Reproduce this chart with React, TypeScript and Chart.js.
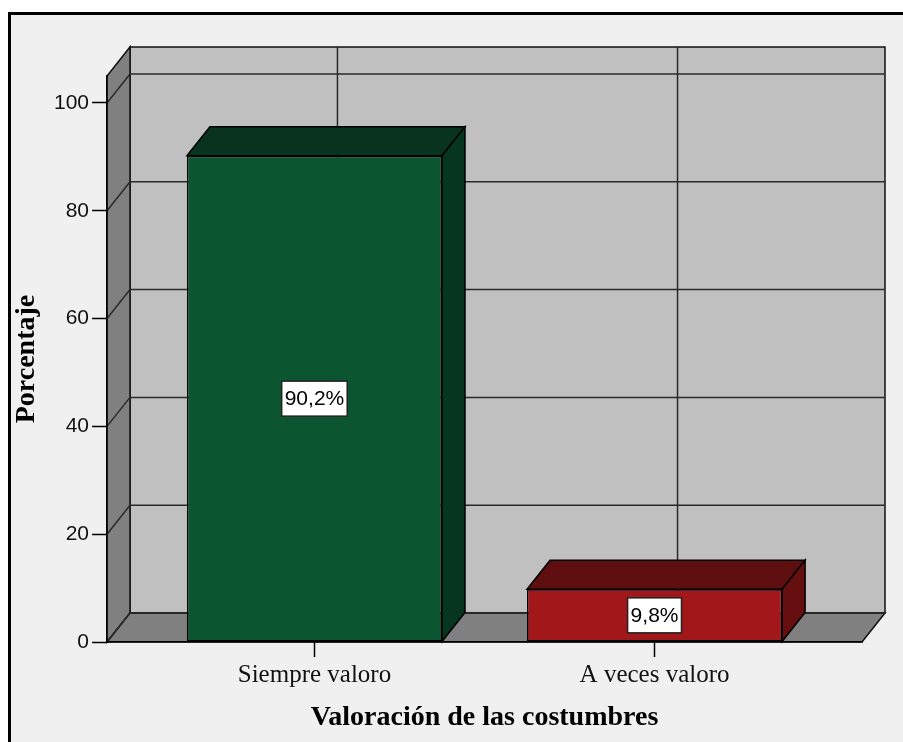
import React, { useEffect, useRef } from 'react';
import { Chart, registerables } from 'chart.js';

Chart.register(...registerables);

const categories = ['Siempre valoro', 'A veces valoro'];
const percentages = [90.2, 9.8];
const yTickValues = [0, 20, 40, 60, 80, 100];
const frontColors = ['#0b5530', '#a1171a'];
const topColors = ['#08341f', '#5f0e10'];
const sideColors = ['#073620', '#660f11'];
const xTitle = 'Valoración de las costumbres';
const yTitle = 'Porcentaje';

const DX = 23;
const DY = -29;
const serif = "'Liberation Serif', 'Times New Roman', serif";
const sans = "'Liberation Sans', Arial, sans-serif";

function poly(ctx: CanvasRenderingContext2D, pts: number[][], fill: string) {
  ctx.beginPath();
  ctx.moveTo(pts[0][0], pts[0][1]);
  for (let i = 1; i < pts.length; i++) ctx.lineTo(pts[i][0], pts[i][1]);
  ctx.closePath();
  ctx.fillStyle = fill;
  ctx.fill();
  ctx.stroke();
}

const threeD = {
  id: 'threeD',
  beforeDraw(chart: any) {
    const { ctx, chartArea: a, scales } = chart;
    const W = chart.width;
    const H = chart.height;
    ctx.save();
    ctx.fillStyle = '#ffffff';
    ctx.fillRect(0, 0, W, H);
    ctx.fillStyle = '#f0f0f0';
    ctx.fillRect(9.5, 13.5, W, H);
    ctx.lineWidth = 3;
    ctx.strokeStyle = '#000';
    ctx.strokeRect(9.5, 13.5, W + 20, H + 20);

    const L = a.left, R = a.right, T = a.top, B = a.bottom;
    ctx.lineWidth = 1.5;
    ctx.strokeStyle = '#111';
    ctx.lineJoin = 'miter';
    poly(ctx, [[L + DX, T + DY], [R + DX, T + DY], [R + DX, B + DY], [L + DX, B + DY]], '#c0c0c0');
    poly(ctx, [[L, B], [L + DX, B + DY], [L + DX, T + DY], [L, T]], '#808080');
    poly(ctx, [[L, B], [R, B], [R + DX, B + DY], [L + DX, B + DY]], '#808080');

    ctx.strokeStyle = '#2a2a2a';
    ctx.lineWidth = 1.5;
    for (const v of yTickValues) {
      const yy = scales.y.getPixelForValue(v);
      ctx.beginPath();
      ctx.moveTo(L, yy);
      ctx.lineTo(L + DX, yy + DY);
      ctx.lineTo(R + DX, yy + DY);
      ctx.stroke();
    }
    categories.forEach((_, i) => {
      const xx = scales.x.getPixelForValue(i) + DX;
      ctx.beginPath();
      ctx.moveTo(xx, T + DY);
      ctx.lineTo(xx, B + DY);
      ctx.stroke();
    });
    ctx.restore();
  },
  afterDatasetsDraw(chart: any) {
    const { ctx } = chart;
    const meta = chart.getDatasetMeta(0);
    ctx.save();
    ctx.lineWidth = 1.5;
    ctx.strokeStyle = '#000';
    ctx.lineJoin = 'miter';
    meta.data.forEach((bar: any, i: number) => {
      const { x, y, base, width } = bar.getProps(['x', 'y', 'base', 'width'], true);
      const x0 = x - width / 2;
      const x1 = x + width / 2;
      poly(ctx, [[x0, y], [x0 + DX, y + DY], [x1 + DX, y + DY], [x1, y]], topColors[i]);
      poly(ctx, [[x1, y], [x1 + DX, y + DY], [x1 + DX, base + DY], [x1, base]], sideColors[i]);
    });
    ctx.font = `21px ${sans}`;
    ctx.textAlign = 'center';
    ctx.textBaseline = 'middle';
    meta.data.forEach((bar: any, i: number) => {
      const { x, y, base } = bar.getProps(['x', 'y', 'base'], true);
      const txt = percentages[i].toFixed(1).replace('.', ',') + '%';
      const cy = (y + base) / 2;
      const tw = ctx.measureText(txt).width + 6;
      const th = 35;
      ctx.fillStyle = '#fff';
      ctx.fillRect(x - tw / 2, cy - th / 2, tw, th);
      ctx.lineWidth = 1.5;
      ctx.strokeStyle = '#222';
      ctx.strokeRect(x - tw / 2, cy - th / 2, tw, th);
      ctx.fillStyle = '#000';
      ctx.fillText(txt, x, cy + 1);
    });
    ctx.restore();
  },
};

export default function App() {
  const ref = useRef<HTMLCanvasElement | null>(null);
  useEffect(() => {
    if (!ref.current) return;
    const chart = new Chart(ref.current, {
      type: 'bar',
      data: {
        datasets: [
          {
            data: categories.map((_, i) => ({ x: i, y: percentages[i] })),
            backgroundColor: frontColors,
            borderColor: '#000',
            borderWidth: 1.5,
            borderSkipped: false,
            barPercentage: 0.75,
            categoryPercentage: 1,
          },
        ],
      },
      options: {
        responsive: false,
        animation: false,
        devicePixelRatio: 1,
        layout: { padding: { left: 0, top: 76, right: 41, bottom: 0 } },
        plugins: { legend: { display: false }, tooltip: { enabled: false } },
        scales: {
          x: {
            type: 'linear',
            min: -0.61,
            max: 1.61,
            offset: false,
            afterBuildTicks: (s: any) => {
              s.ticks = categories.map((_, i) => ({ value: i }));
            },
            afterFit: (s: any) => {
              s.height = 100;
            },
            ticks: {
              callback: (v: any) => categories[v] ?? '',
              font: { family: serif, size: 25 },
              color: '#111',
              padding: 3,
              maxRotation: 0,
              autoSkip: false,
            },
            grid: {
              offset: false,
              drawOnChartArea: false,
              drawTicks: true,
              tickLength: 15,
              tickColor: '#000',
              tickWidth: 1.5,
            },
            border: { display: true, color: '#000', width: 1.5 },
            title: {
              display: true,
              text: xTitle,
              font: { family: serif, size: 28, weight: 'bold' },
              color: '#000',
              padding: { top: 0, bottom: 7 },
            },
          },
          y: {
            min: 0,
            max: 105,
            afterBuildTicks: (s: any) => {
              s.ticks = yTickValues.map((v) => ({ value: v }));
            },
            afterFit: (s: any) => {
              s.width = 107;
            },
            ticks: {
              font: { family: sans, size: 21 },
              color: '#111',
              padding: 3,
            },
            grid: { drawOnChartArea: false, drawTicks: true, tickLength: 15, tickColor: '#000', tickWidth: 1.5 },
            border: { display: true, color: '#000', width: 1.5 },
            title: {
              display: true,
              text: yTitle,
              font: { family: serif, size: 28, weight: 'bold' },
              color: '#000',
              padding: { top: 10, bottom: 0 },
            },
          },
        },
      },
      plugins: [threeD],
    } as any);
    return () => chart.destroy();
  }, []);
  return (
    <div style={{ position: 'fixed', left: 0, top: 0, width: 903, height: 742, background: '#fff' }}>
      <canvas ref={ref} width={903} height={742} style={{ display: 'block', width: 903, height: 742 }} />
    </div>
  );
}
